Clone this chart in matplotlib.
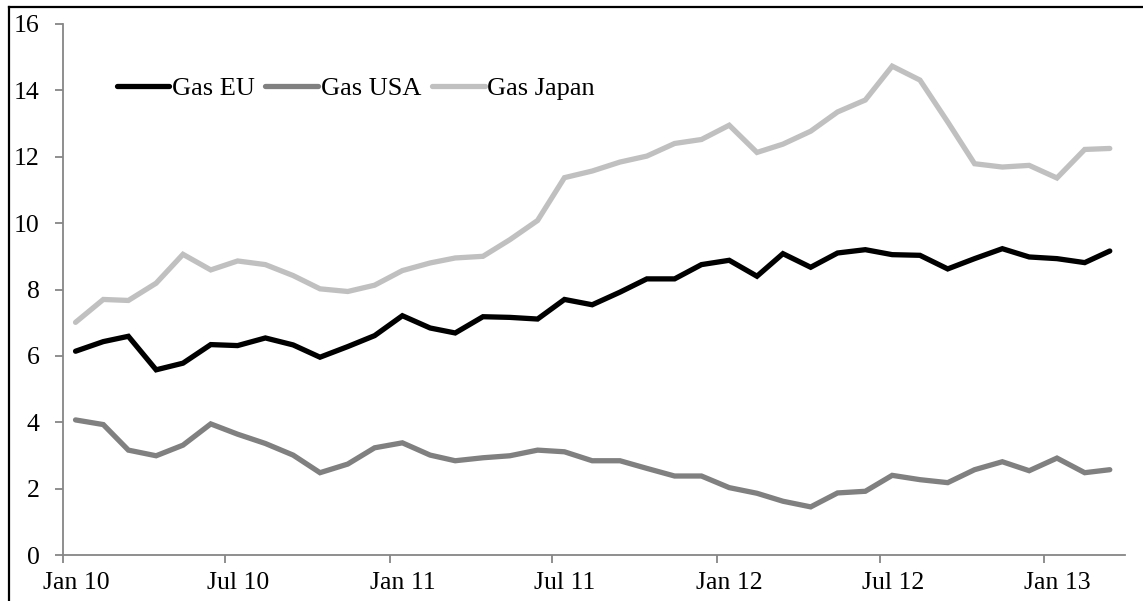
import matplotlib
matplotlib.use("Agg")
import matplotlib.pyplot as plt
import matplotlib.dates as mdates
from matplotlib.transforms import ScaledTranslation
from matplotlib.lines import Line2D
import pandas as pd

plt.rcParams['font.family'] = 'serif'
plt.rcParams['font.serif'] = ['Liberation Serif', 'Times New Roman', 'DejaVu Serif']

# monthly prices, Jan 2010 - Mar 2013
months = pd.period_range("2010-01", "2013-03", freq="M")

gas_eu = [6.14, 6.43, 6.59, 5.58, 5.78, 6.34, 6.31, 6.54, 6.33, 5.96,
          6.28, 6.61, 7.21, 6.84, 6.69, 7.18, 7.16, 7.11, 7.70, 7.54,
          7.92, 8.32, 8.32, 8.75, 8.88, 8.40, 9.08, 8.67, 9.10, 9.20,
          9.05, 9.03, 8.62, 8.93, 9.23, 8.98, 8.93, 8.81, 9.16]
gas_usa = [4.07, 3.93, 3.16, 2.99, 3.31, 3.95, 3.64, 3.36, 3.01, 2.48,
           2.74, 3.23, 3.38, 3.01, 2.84, 2.93, 2.99, 3.16, 3.11, 2.84,
           2.84, 2.61, 2.38, 2.38, 2.03, 1.86, 1.62, 1.45, 1.87, 1.92,
           2.40, 2.27, 2.18, 2.57, 2.81, 2.54, 2.92, 2.48, 2.57]
gas_japan = [7.01, 7.70, 7.67, 8.19, 9.06, 8.59, 8.86, 8.75, 8.42, 8.02,
             7.94, 8.13, 8.57, 8.80, 8.95, 9.00, 9.50, 10.08, 11.37, 11.57,
             11.84, 12.02, 12.40, 12.52, 12.95, 12.13, 12.38, 12.77, 13.35, 13.71,
             14.73, 14.31, 13.05, 11.79, 11.69, 11.74, 11.36, 12.22, 12.25]

series = ["Gas EU", "Gas USA", "Gas Japan"]
colors = ["#000000", "#808080", "#c0c0c0"]

# points sit mid-month on a date axis
x = months.to_timestamp() + pd.Timedelta(days=14)

W, H = 1143, 601
fig = plt.figure(figsize=(W / 100, H / 100), dpi=100)
ax = fig.add_axes([63 / W, 1 - 555 / H, (1125 - 63) / W, (555 - 24) / H])

for name, vals, c in zip(series, [gas_eu, gas_usa, gas_japan], colors):
    ax.plot(x, vals, color=c, lw=3.8, label=name, solid_capstyle='round',
            solid_joinstyle='miter')

ax.set_ylim(0, 16)
ax.set_yticks(range(0, 17, 2))
ax.set_xlim(pd.Timestamp("2010-01-01"), pd.Timestamp("2013-04-01"))
ax.set_xticks(pd.date_range("2010-01-01", "2013-01-01", freq="6MS"))
ax.xaxis.set_major_formatter(mdates.DateFormatter("%b %y"))

for s in ["top", "right"]:
    ax.spines[s].set_visible(False)
for s in ["left", "bottom"]:
    ax.spines[s].set_color("#868686")
    ax.spines[s].set_linewidth(1.3)
ax.tick_params(axis='both', colors="#868686", labelcolor="black", labelsize=18.5,
               length=6, width=1.3, direction='out')
ax.tick_params(axis='x', pad=6.5)
ax.tick_params(axis='y', pad=11)

# excel-style: month labels sit a little right of their tick
shift = ScaledTranslation(13 / 100, 0, fig.dpi_scale_trans)
for lab in ax.get_xticklabels():
    lab.set_transform(lab.get_transform() + shift)

ax.legend(loc='upper left', bbox_to_anchor=(0.038, 0.925), ncol=3, frameon=False,
          fontsize=19, handlelength=2.0, handletextpad=0.1, columnspacing=0.4,
          borderpad=0)

# chart-area frame, partly cropped off at right and bottom
fig.add_artist(Line2D([9 / W, 9 / W], [0, 1 - 7 / H], color="black", lw=1.6,
                      transform=fig.transFigure))
fig.add_artist(Line2D([9 / W, 1], [1 - 7 / H, 1 - 7 / H], color="black", lw=1.6,
                      transform=fig.transFigure))

fig.savefig("out.png", dpi=100)
